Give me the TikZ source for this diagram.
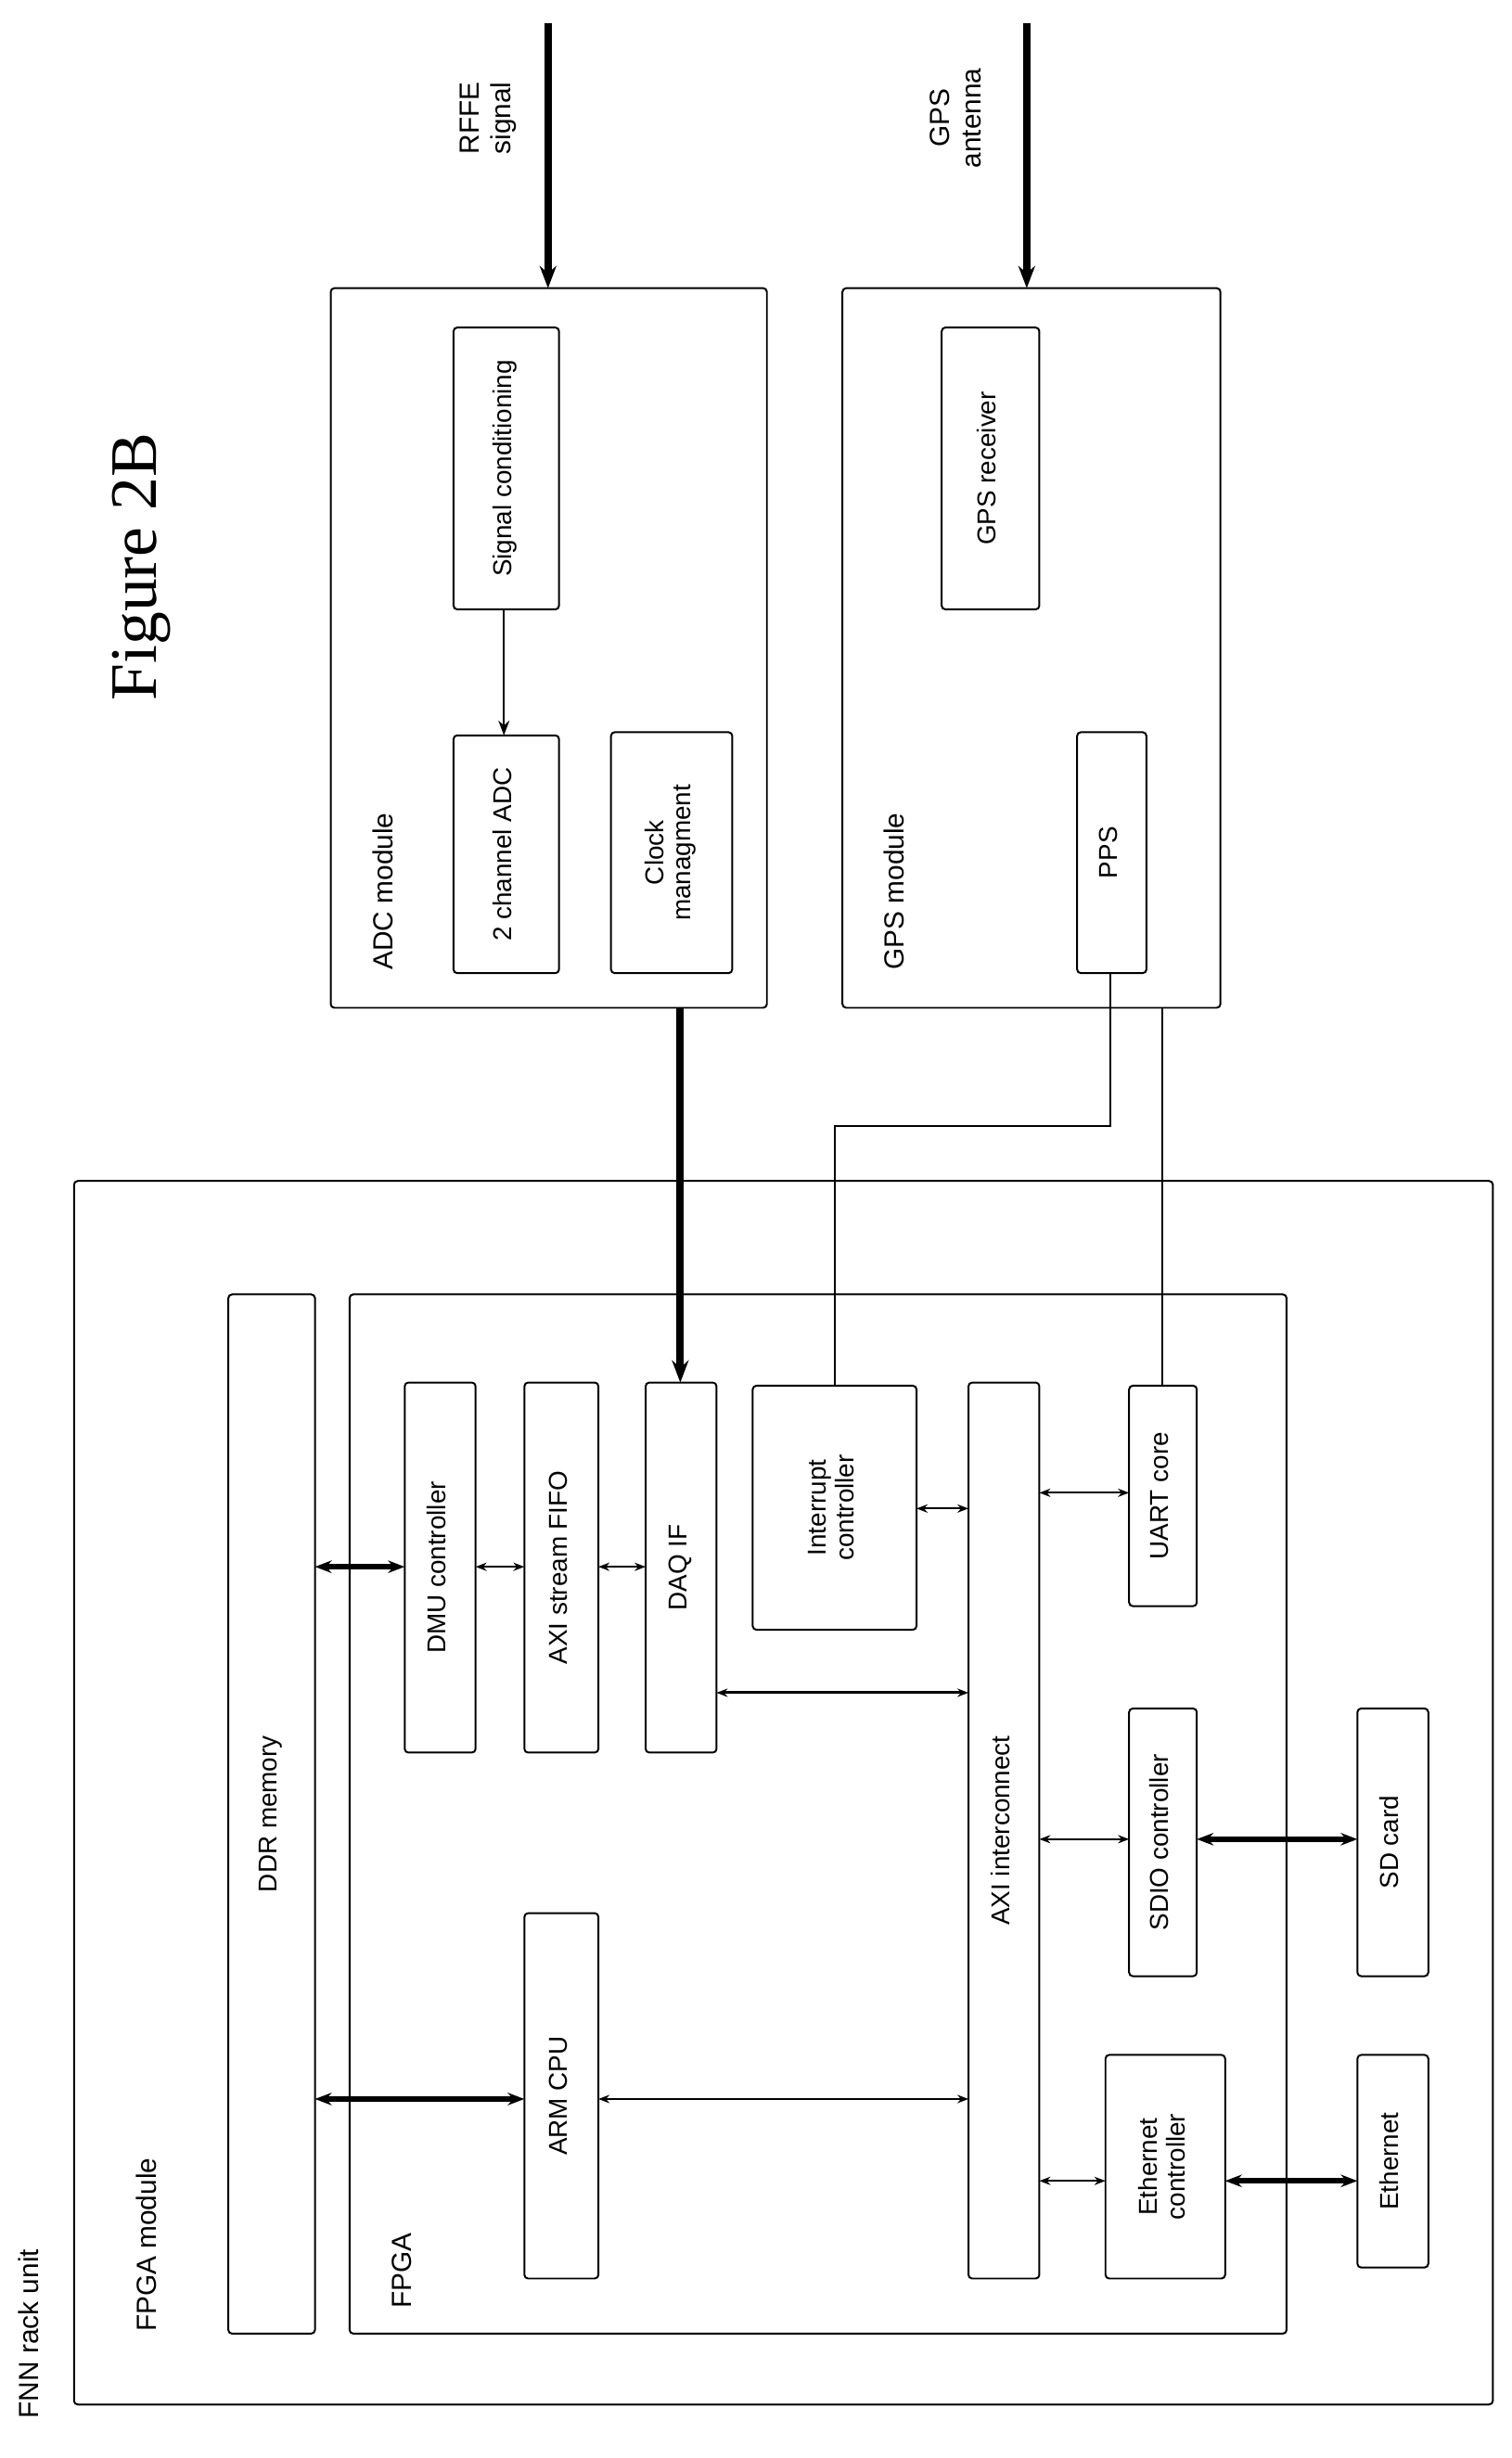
\documentclass[tikz,border=0pt]{standalone}
\usepackage{fontspec}
\setmainfont{Liberation Sans}
\newfontfamily\titlefont{Liberation Serif}
\usetikzlibrary{arrows.meta}
% block: name, x1, y1, x2, y2, text
\newcommand\blk[6]{%
  \node[box, minimum width={(#4-#2)*0.03cm}, minimum height={(#5-#3)*0.03cm}]
    (#1) at ({(#2+#4)/2},{(#3+#5)/2}) {\rotatebox{90}{\begin{tabular}{c}#6\end{tabular}}};}
\tikzset{
  box/.style={draw, line width=1pt, rounded corners=2pt, inner sep=0pt, outer sep=0pt,
    font=\fontsize{14}{15}\selectfont},
  lbl/.style={rotate=90, font=\fontsize{15}{17}\selectfont, align=center},
  thin/.style={line width=1pt, {Stealth[length=6pt]}-{Stealth[length=6pt]}},
  thick/.style={line width=3pt, {Stealth[length=9pt]}-{Stealth[length=9pt]}},
  feed/.style={line width=4pt, -{Stealth[length=12pt]}}
}
\begin{document}
\begin{tikzpicture}[x=0.03cm, y=-0.03cm]
  \useasboundingbox (0,0) rectangle (960,1561);
  % title
  \node[rotate=90, font=\titlefont\fontsize{36}{40}\selectfont] (title) at (90,360) {Figure 2B};
  % ADC module
  \blk{adc}{210}{183}{487}{640}{}
  \node[lbl, anchor=west] (adclbl) at (243,620) {ADC module};
  \blk{sigc}{288}{208}{355}{387}{Signal conditioning}
  \blk{adc2}{288}{467}{355}{618}{2 channel ADC}
  \blk{clk}{388}{465}{465}{618}{Clock\\managment}
  \draw[line width=1pt, -{Stealth[length=8pt]}] (sigc.south -| 320,0) -- (adc2.north -| 320,0);
  % GPS module
  \blk{gps}{535}{183}{775}{640}{}
  \node[lbl, anchor=west] (gpslbl) at (568,620) {GPS module};
  \blk{gpsrx}{598}{208}{660}{387}{GPS receiver}
  \blk{pps}{684}{465}{728}{618}{PPS}
  % inputs
  \coordinate (rffe) at (348,15);
  \coordinate (ant) at (652,15);
  \draw[feed] (rffe) -- (adc.north -| rffe);
  \draw[feed] (ant) -- (gps.north -| ant);
  \node[lbl] (rffelbl) at (310,75) {RFFE\\signal};
  \node[lbl] (antlbl) at (607,75) {GPS\\antenna};
  % FNN rack unit
  \blk{fnn}{47}{750}{948}{1527}{}
  \node[lbl, anchor=west] (fnnlbl) at (18,1540) {FNN rack unit};
  \node[lbl, anchor=west] (fpgamlbl) at (93,1485) {FPGA module};
  \blk{ddr}{145}{822}{200}{1482}{DDR memory}
  \blk{fpga}{222}{822}{817}{1482}{}
  \node[lbl, anchor=west] (fpgalbl) at (255,1470) {FPGA};
  \blk{dmu}{257}{878}{302}{1113}{DMU controller}
  \blk{fifo}{333}{878}{380}{1113}{AXI stream FIFO}
  \blk{daq}{410}{878}{455}{1113}{DAQ IF}
  \blk{irq}{478}{880}{582}{1035}{Interrupt\\controller}
  \blk{axi}{615}{878}{660}{1447}{AXI interconnect}
  \blk{uart}{717}{880}{760}{1020}{UART core}
  \blk{sdio}{717}{1085}{760}{1255}{SDIO controller}
  \blk{sd}{862}{1085}{907}{1255}{SD card}
  \blk{ethc}{702}{1305}{778}{1447}{Ethernet\\controller}
  \blk{eth}{862}{1305}{907}{1440}{Ethernet}
  \blk{arm}{333}{1215}{380}{1447}{ARM CPU}
  % connections
  \draw[feed] (adc.south -| 432,0) -- (daq.north -| 432,0);
  \draw[line width=1pt] (pps.south -| 705,0) -- (705,715) -- (530,715) -- (irq.north -| 530,0);
  \draw[line width=1pt] (gps.south -| 738,0) -- (uart.north -| 738,0);
  \draw[thick] (ddr.east |- 0,995) -- (dmu.west |- 0,995);
  \draw[thin] (dmu.east |- 0,995) -- (fifo.west |- 0,995);
  \draw[thin] (fifo.east |- 0,995) -- (daq.west |- 0,995);
  \draw[thin] (irq.east |- 0,958) -- (axi.west |- 0,958);
  \draw[thin] (axi.east |- 0,948) -- (uart.west |- 0,948);
  \draw[thin, line width=1.5pt] (daq.east |- 0,1075) -- (axi.west |- 0,1075);
  \draw[thin] (axi.east |- 0,1168) -- (sdio.west |- 0,1168);
  \draw[thick] (sdio.east |- 0,1168) -- (sd.west |- 0,1168);
  \draw[thick] (ddr.east |- 0,1333) -- (arm.west |- 0,1333);
  \draw[thin] (arm.east |- 0,1333) -- (axi.west |- 0,1333);
  \draw[thin] (axi.east |- 0,1385) -- (ethc.west |- 0,1385);
  \draw[thick] (ethc.east |- 0,1385) -- (eth.west |- 0,1385);
\end{tikzpicture}
\end{document}
